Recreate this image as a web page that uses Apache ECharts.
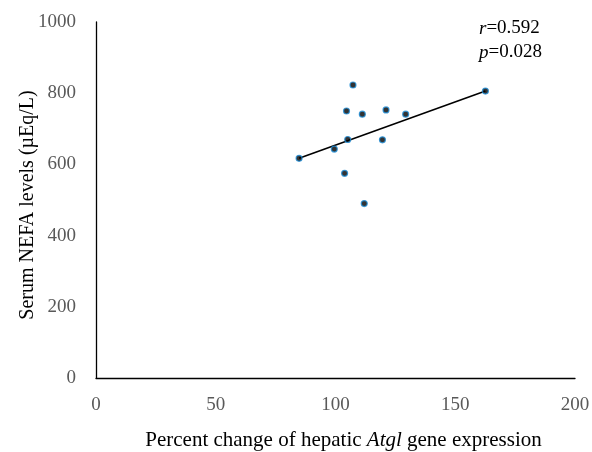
<!DOCTYPE html>
<html>
<head>
<meta charset="utf-8">
<style>
  html, body { margin: 0; padding: 0; background: #fff; }
  #chart { width: 592px; height: 452px; }
</style>
<script src="https://cdn.jsdelivr.net/npm/echarts@6/dist/echarts.min.js"></script>
</head>
<body>
<div id="chart"></div>
<script>
// percent change of hepatic Atgl expression vs serum NEFA (µEq/L)
const atglPct = [84.8, 99.5, 103.8, 104.6, 105.1, 107.3, 111.2, 112.0, 119.6, 121.1, 129.3, 162.6];
const nefa    = [617, 643, 575, 750, 670, 823, 741, 490, 669, 753, 741, 806];
const trendX  = [84.8, 162.6];
const trendY  = [617, 806];
const stats   = ["r=0.592", "p=0.028"];

const FONT = "'Liberation Serif', 'DejaVu Serif', serif";
const chart = echarts.init(document.getElementById("chart"), null, { renderer: "canvas" });

chart.setOption({
  animation: false,
  grid: { left: 96, right: 17, top: 22, bottom: 74, containLabel: false, outerBoundsMode: "none" },
  xAxis: {
    type: "value", min: 0, max: 200, interval: 50,
    splitLine: { show: false }, axisTick: { show: false },
    axisLine: { show: true, lineStyle: { color: "#000", width: 1.3 } },
    axisLabel: { color: "#595959", fontSize: 19, fontFamily: FONT, margin: 18 },
    name: "{n|Percent change of hepatic }{i|Atgl}{n| gene expression}",
    nameLocation: "middle", nameGap: 52, nameMoveOverlap: false,
    nameTextStyle: {
      padding: [0, 0, 0, 16],
      rich: {
        n: { fontSize: 21, fontFamily: FONT, color: "#000" },
        i: { fontSize: 21, fontFamily: FONT, color: "#000", fontStyle: "italic" }
      }
    }
  },
  yAxis: {
    type: "value", min: 0, max: 1000, interval: 200,
    splitLine: { show: false }, axisTick: { show: false },
    axisLine: { show: true, lineStyle: { color: "#000", width: 1.3 } },
    axisLabel: { color: "#595959", fontSize: 19, fontFamily: FONT, margin: 20, formatter: (v) => String(v) },
    name: "Serum NEFA levels (µEq/L)",
    nameLocation: "middle", nameGap: 58, nameMoveOverlap: false,
    nameTextStyle: { fontSize: 20, fontFamily: FONT, color: "#000", padding: [0, 10, 0, 0] }
  },
  series: [
    {
      type: "line", data: trendX.map((x, i) => [x, trendY[i]]),
      symbol: "none", lineStyle: { color: "#000", width: 1.6 }, z: 2, silent: true
    },
    {
      type: "scatter", data: atglPct.map((x, i) => [x, nefa[i]]),
      symbol: "circle", symbolSize: 6,
      itemStyle: { color: "#000", borderColor: "#1f8fd8", borderWidth: 1.2 }, z: 3
    }
  ],
  graphic: stats.map((s, i) => ({
    type: "text", left: 479, top: 19 + i * 24,
    style: {
      text: "{i|" + s[0] + "}{n|" + s.slice(1) + "}",
      rich: {
        i: { fontSize: 19, fontFamily: FONT, fontStyle: "italic", fill: "#000" },
        n: { fontSize: 19, fontFamily: FONT, fill: "#000" }
      }
    }
  }))
});
</script>
</body>
</html>
